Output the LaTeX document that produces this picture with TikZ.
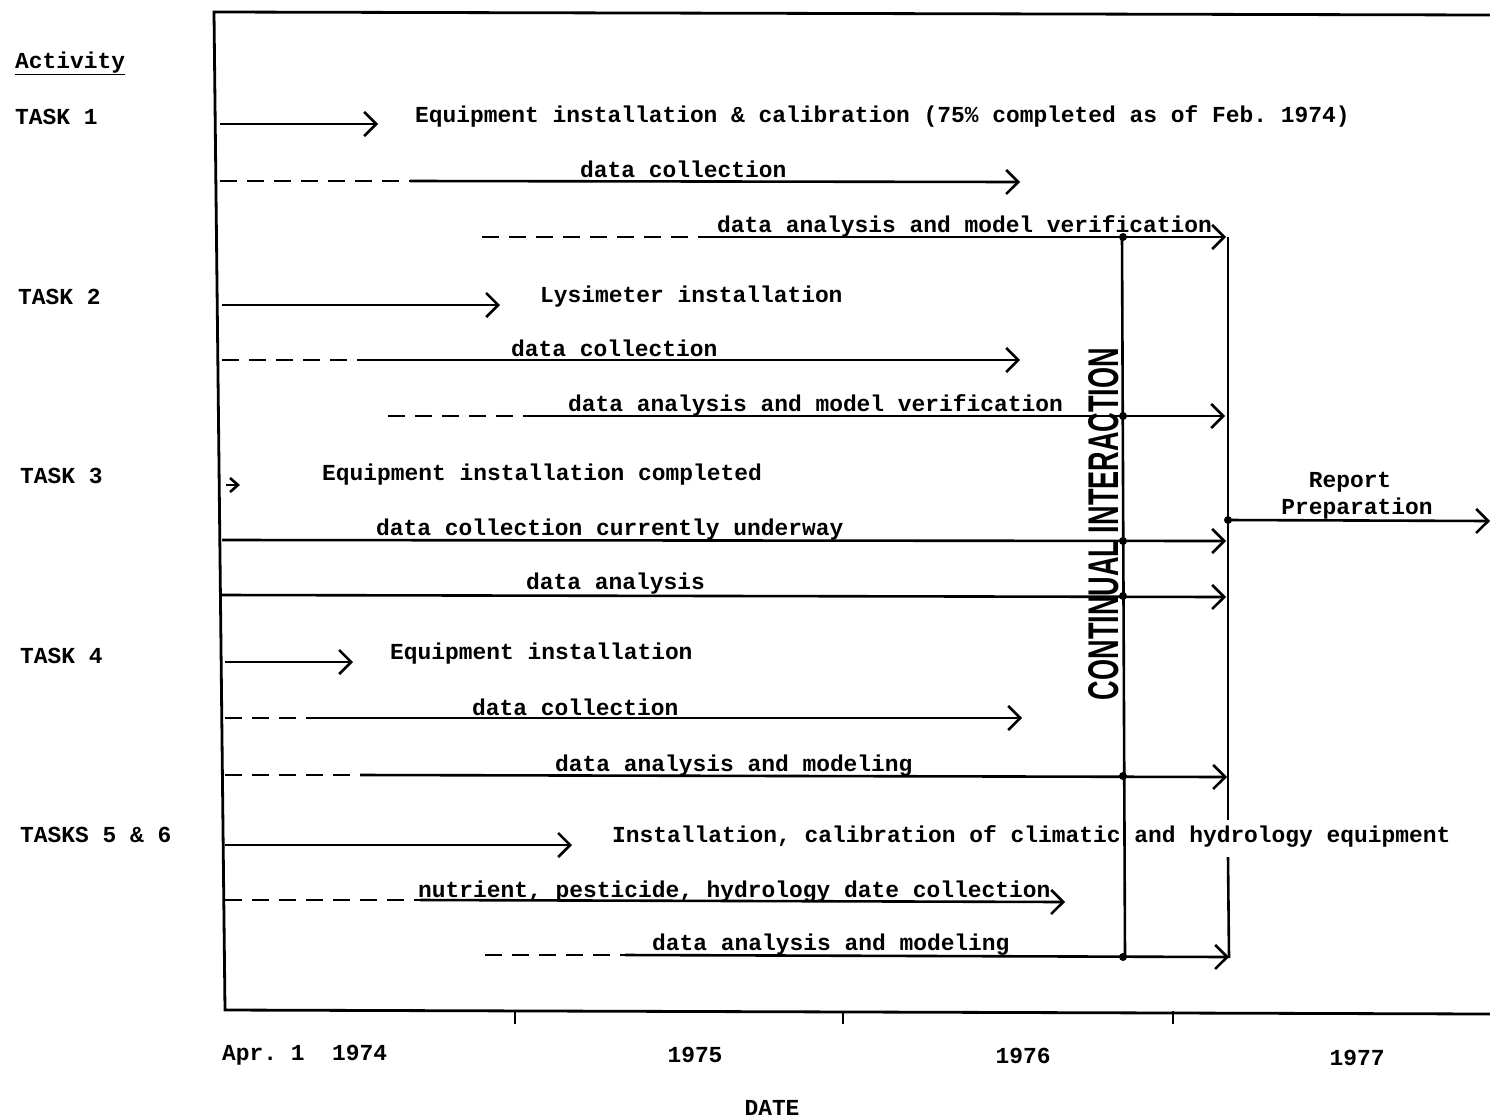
\documentclass[tikz,border=0pt]{standalone}
\usepackage{fontspec}
\setmainfont{Liberation Serif}
\setmonofont{Liberation Mono}
\setsansfont{Liberation Sans}
\usepackage{graphicx}
\usetikzlibrary{arrows.meta}
\tikzstyle{txt} = [anchor=base west, inner sep=0pt, font=\ttfamily\bfseries\fontsize{22.9}{27}\selectfont]
\tikzstyle{ctxt} = [txt, anchor=base]
\tikzstyle{arrow} = [line width=2.6pt, -{Straight Barb[length=12pt,width=24pt]}]
\tikzstyle{plan} = [line width=2.6pt, dash pattern=on 17pt off 10pt]
\tikzstyle{frame} = [line width=2.8pt]
\tikzstyle{link} = [line width=2.6pt]
\tikzstyle{dot} = [circle, fill=black, inner sep=0pt, minimum size=8pt]
\begin{document}
\begin{tikzpicture}[x=1pt, y=-1pt]
\useasboundingbox (0,0) rectangle (1490,1117);

% frame and time axis
\coordinate (tl) at (214,12);
\coordinate (tr) at (1490,15);
\coordinate (bl) at (225,1010);
\coordinate (br) at (1490,1014);
\draw[frame] (tr) -- (tl) -- (bl) -- (br);
\foreach \x/\name in {515/k1, 843/k2, 1173/k3} {
  \coordinate (\name) at (\x,1011);
  \draw[frame] (\name) -- ++(0,13);
}
\node (y74) [txt] at (222,1060) {Apr.\ 1\ \ 1974};
\node (y75) [ctxt] at (695,1062) {1975};
\node (y76) [ctxt] at (1023,1063) {1976};
\node (y77) [ctxt] at (1357,1065) {1977};
\node (date) [ctxt] at (772,1115) {DATE};

% activity labels
\node (act) [txt] at (15,68) {\underline{Activity}};
\node (task1) [txt] at (15,124) {TASK 1};
\node (task2) [txt] at (18,304) {TASK 2};
\node (task3) [txt] at (20,483) {TASK 3};
\node (task4) [txt] at (20,663) {TASK 4};
\node (task56) [txt] at (20,842) {TASKS 5 \& 6};

% interaction and report lines
\coordinate (ci1) at (1122,237);
\coordinate (ci2) at (1125,958);
\coordinate (rp1) at (1228,237);
\coordinate (rpg1) at (1228,820);
\coordinate (rpg2) at (1228,857);
\coordinate (rp2) at (1229,958);
\draw[link] (ci1) -- (ci2);
\draw[link] (rp1) -- (rpg1);
\draw[link] (rpg2) -- (rp2);
\node (ci) [rotate=90, inner sep=0pt] at (1104,524) {\resizebox{352pt}{30pt}{\sffamily\bfseries CONTINUAL INTERACTION}};

% TASK 1
\coordinate (a1) at (220,124); \coordinate (a2) at (378,124);
\draw[arrow] (a1) -- (a2);
\node (eq1) [txt] at (415,122) {Equipment installation \& calibration (75\% completed as of Feb. 1974)};
\coordinate (b1) at (220,181); \coordinate (b2) at (410,181); \coordinate (b3) at (1020,182);
\draw[plan] (b1) -- (b2);
\draw[arrow] (b2) -- (b3);
\node (dc1) [txt] at (580,177) {data collection};
\coordinate (c1) at (482,237); \coordinate (c2) at (705,237); \coordinate (c3) at (1226,237);
\draw[plan] (c1) -- (c2);
\draw[arrow] (c2) -- (c3);
\node (da1) [txt] at (717,232) {data analysis and model verification};

% TASK 2
\coordinate (d1) at (222,305); \coordinate (d2) at (500,305);
\draw[arrow] (d1) -- (d2);
\node (lys) [txt] at (540,302) {Lysimeter installation};
\coordinate (e1) at (222,360); \coordinate (e2) at (360,360); \coordinate (e3) at (1020,360);
\draw[plan] (e1) -- (e2);
\draw[arrow] (e2) -- (e3);
\node (dc2) [txt] at (511,356) {data collection};
\coordinate (f1) at (388,416); \coordinate (f2) at (525,416); \coordinate (f3) at (1225,416);
\draw[plan] (f1) -- (f2);
\draw[arrow] (f2) -- (f3);
\node (da2) [txt] at (568,411) {data analysis and model verification};

% TASK 3
\coordinate (g1) at (226,485); \coordinate (g2) at (240,485);
\draw[line width=2.6pt, -{Straight Barb[length=8pt,width=14pt]}] (g1) -- (g2);
\node (eq3) [txt] at (322,480) {Equipment installation completed};
\coordinate (h1) at (222,540); \coordinate (h2) at (1226,541);
\draw[arrow] (h1) -- (h2);
\node (dc3) [txt] at (376,535) {data collection currently underway};
\coordinate (i1) at (222,595); \coordinate (i2) at (1226,597);
\draw[arrow] (i1) -- (i2);
\node (da3) [txt] at (526,589) {data analysis};

% report preparation
\coordinate (rp) at (1228,520); \coordinate (rpe) at (1490,521);
\draw[arrow] (rp) -- (rpe);
\node (rep1) [ctxt] at (1350,487) {Report};
\node (rep2) [ctxt] at (1357,514) {Preparation};

% TASK 4
\coordinate (j1) at (225,662); \coordinate (j2) at (353,662);
\draw[arrow] (j1) -- (j2);
\node (eq4) [txt] at (390,659) {Equipment installation};
\coordinate (k1s) at (225,718); \coordinate (k2s) at (320,718); \coordinate (k3s) at (1022,718);
\draw[plan] (k1s) -- (k2s);
\draw[arrow] (k2s) -- (k3s);
\node (dc4) [txt] at (472,715) {data collection};
\coordinate (l1) at (225,775); \coordinate (l2) at (360,775); \coordinate (l3) at (1227,777);
\draw[plan] (l1) -- (l2);
\draw[arrow] (l2) -- (l3);
\node (da4) [txt] at (555,771) {data analysis and modeling};

% TASKS 5 & 6
\coordinate (m1) at (225,845); \coordinate (m2) at (572,845);
\draw[arrow] (m1) -- (m2);
\node (eq5) [txt] at (612,842) {Installation, calibration of climatic and hydrology equipment};
\coordinate (n1) at (225,900); \coordinate (n2) at (420,900); \coordinate (n3) at (1065,902);
\draw[plan] (n1) -- (n2);
\draw[arrow] (n2) -- (n3);
\node (dc5) [txt] at (418,897) {nutrient, pesticide, hydrology date collection};
\coordinate (o1) at (485,955); \coordinate (o2) at (625,955); \coordinate (o3) at (1229,957);
\draw[plan] (o1) -- (o2);
\draw[arrow] (o2) -- (o3);
\node (da5) [txt] at (652,950) {data analysis and modeling};

% junctions
\foreach \y in {237, 416, 541, 596, 776, 957}
  \node[dot] at (1123,\y) {};
\node (rpd) [dot] at (rp) {};
\end{tikzpicture}
\end{document}
